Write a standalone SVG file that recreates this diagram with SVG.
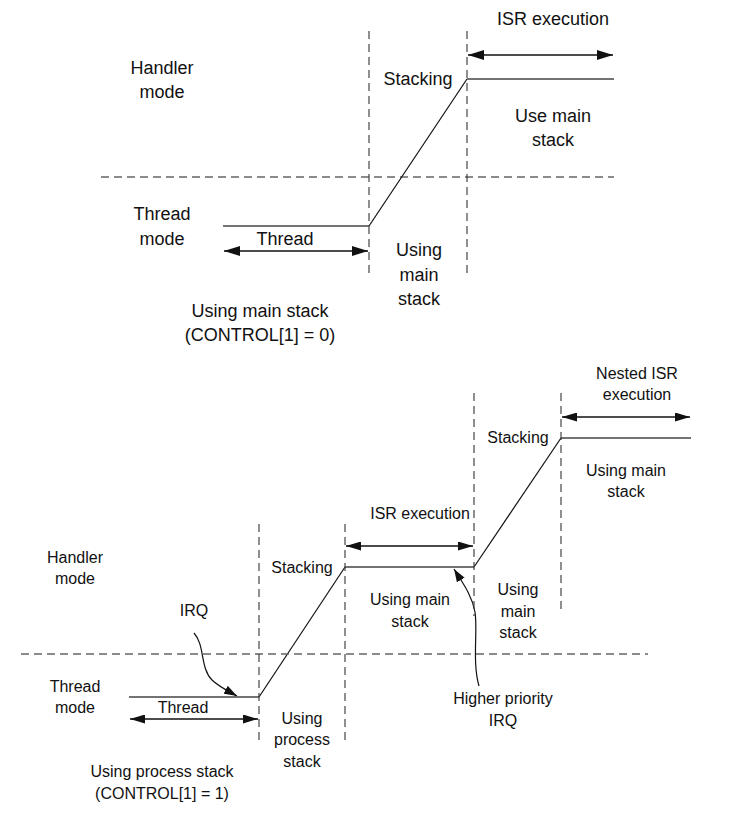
<svg xmlns="http://www.w3.org/2000/svg" width="733" height="835" viewBox="0 0 733 835">
<style>
  text { font-family: "Liberation Sans", Arial, sans-serif; fill: #111; text-anchor: middle; }
  .t1 { font-size: 18px; }
  .t2 { font-size: 16px; }
  .hd { fill: none; stroke: #666; stroke-width: 1.6; stroke-dasharray: 8 5; }
  .vd { fill: none; stroke: #333; stroke-width: 1.1; stroke-dasharray: 8 5; }
  .lvl { fill: none; stroke: #444; stroke-width: 1.4; }
  .sl { fill: none; stroke: #111; stroke-width: 1.2; }
  .ar { fill: none; stroke: #111; stroke-width: 1.6; }
  .cv { fill: none; stroke: #111; stroke-width: 1.2; }
</style>
<defs>
  <marker id="ah" viewBox="0 0 16 10" refX="16" refY="5" markerWidth="16" markerHeight="10" markerUnits="userSpaceOnUse" orient="auto-start-reverse">
    <path d="M0,0 L16,5 L0,10 z" fill="#111"/>
  </marker>
  <marker id="ahs" viewBox="0 0 15 9" refX="15" refY="4.5" markerWidth="15" markerHeight="9" markerUnits="userSpaceOnUse" orient="auto-start-reverse">
    <path d="M0,0 L15,4.5 L0,9 z" fill="#111"/>
  </marker>
  <marker id="ahc" viewBox="0 0 13 9" refX="13" refY="4.5" markerWidth="13" markerHeight="9" markerUnits="userSpaceOnUse" orient="auto">
    <path d="M0,0 L13,4.5 L0,9 z" fill="#111"/>
  </marker>
</defs>

<g id="top-grid">
  <line class="hd" x1="101" y1="177" x2="614" y2="177"/>
  <line class="vd" x1="369" y1="31" x2="369" y2="276"/>
  <line class="vd" x1="467" y1="31" x2="467" y2="276"/>
</g>

<g id="connectors">
  <!-- top diagram -->
  <polyline class="lvl" points="223,226 369,226"/>
  <line class="sl" x1="369" y1="226" x2="467" y2="79"/>
  <polyline class="lvl" points="467,79 614,79"/>
  <line class="ar" x1="224" y1="251" x2="368" y2="251" marker-start="url(#ah)" marker-end="url(#ah)"/>
  <line class="ar" x1="468" y1="55" x2="613" y2="55" marker-start="url(#ah)" marker-end="url(#ah)"/>

  <!-- bottom diagram -->
  <polyline class="lvl" points="129,697 259,697"/>
  <line class="sl" x1="259" y1="697" x2="345" y2="567"/>
  <polyline class="lvl" points="345,567 474,567"/>
  <line class="sl" x1="474" y1="567" x2="561" y2="438"/>
  <polyline class="lvl" points="561,438 691,438"/>
  <line class="ar" x1="130" y1="719" x2="258" y2="719" marker-start="url(#ahs)" marker-end="url(#ahs)"/>
  <line class="ar" x1="346" y1="546" x2="473" y2="546" marker-start="url(#ahs)" marker-end="url(#ahs)"/>
  <line class="ar" x1="562" y1="417" x2="690" y2="417" marker-start="url(#ahs)" marker-end="url(#ahs)"/>
  <path class="cv" d="M194,633 C205,645 200,668 212,680 C218,686 226,690 237,696" marker-end="url(#ahc)"/>
  <path class="cv" d="M479,686 C472,662 478,630 475,612 C472,595 462,582 454,569" marker-end="url(#ahc)"/>
</g>

<g id="bottom-grid">
  <line class="hd" x1="21" y1="654" x2="648" y2="654"/>
  <line class="vd" x1="259" y1="524" x2="259" y2="741"/>
  <line class="vd" x1="345" y1="524" x2="345" y2="741"/>
  <line class="vd" x1="474" y1="393" x2="474" y2="616"/>
  <line class="vd" x1="561" y1="393" x2="561" y2="611"/>
</g>

<g id="top-labels" class="t1">
  <text x="553" y="25">ISR execution</text>
  <text x="162" y="74">Handler</text>
  <text x="162" y="98">mode</text>
  <text x="418" y="85">Stacking</text>
  <text x="553" y="122">Use main</text>
  <text x="553" y="146">stack</text>
  <text x="162" y="220">Thread</text>
  <text x="162" y="245">mode</text>
  <text x="285" y="245">Thread</text>
  <text x="419" y="256">Using</text>
  <text x="419" y="281">main</text>
  <text x="419" y="305">stack</text>
  <text x="260" y="317">Using main stack</text>
  <text x="260" y="341">(CONTROL[1] = 0)</text>
</g>

<g id="bottom-labels" class="t2">
  <text x="637" y="379">Nested ISR</text>
  <text x="637" y="400">execution</text>
  <text x="518" y="443">Stacking</text>
  <text x="626" y="476">Using main</text>
  <text x="626" y="497">stack</text>
  <text x="420" y="519">ISR execution</text>
  <text x="75" y="563">Handler</text>
  <text x="75" y="584">mode</text>
  <text x="302" y="573">Stacking</text>
  <text x="410" y="605">Using main</text>
  <text x="410" y="627">stack</text>
  <text x="518" y="595">Using</text>
  <text x="518" y="617">main</text>
  <text x="518" y="638">stack</text>
  <text x="194" y="616">IRQ</text>
  <text x="75" y="692">Thread</text>
  <text x="75" y="713">mode</text>
  <text x="183" y="713">Thread</text>
  <text x="503" y="704">Higher priority</text>
  <text x="503" y="726">IRQ</text>
  <text x="302" y="724">Using</text>
  <text x="302" y="745">process</text>
  <text x="302" y="767">stack</text>
  <text x="162" y="777">Using process stack</text>
  <text x="162" y="799">(CONTROL[1] = 1)</text>
</g>
</svg>
